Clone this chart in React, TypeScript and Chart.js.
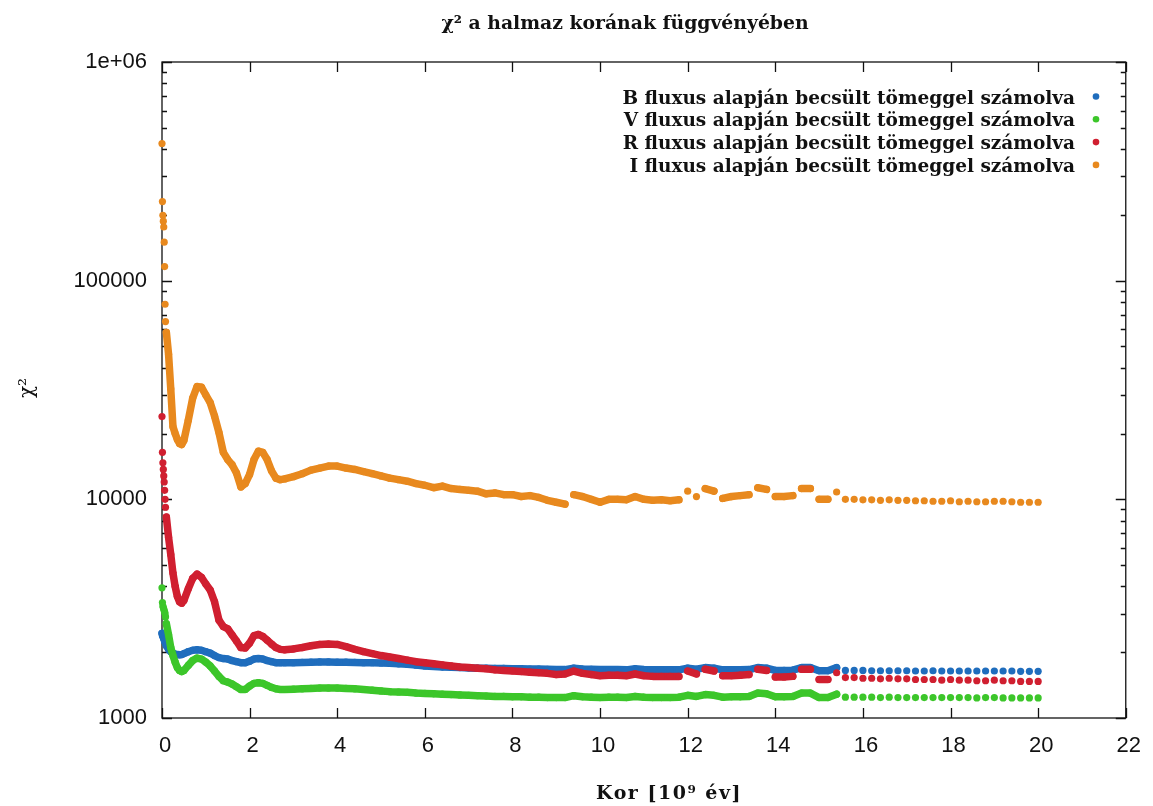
import { useEffect, useRef } from 'react';
import { Chart, registerables } from 'chart.js';

Chart.register(...registerables);

// Cluster age grid [10^9 év]
const ages = [
  0, 0.01, 0.02, 0.03, 0.04, 0.05, 0.06, 0.07, 0.08, 0.1,
  0.15, 0.2, 0.25, 0.3, 0.35, 0.4, 0.45, 0.5,
  0.6, 0.7, 0.8, 0.9, 1.0, 1.1, 1.2, 1.3, 1.4, 1.5, 1.6, 1.7,
  1.8, 1.9, 2.0, 2.1, 2.2, 2.3, 2.4, 2.5, 2.6, 2.7, 2.8,
  3.0,
  3.2, 3.4, 3.6, 3.8, 4.0, 4.2, 4.4, 4.6, 4.8, 5.0,
  5.2, 5.4, 5.6, 5.8, 6.0,
  6.2, 6.4, 6.6, 6.8, 7.0,
  7.2, 7.4, 7.6, 7.8, 8.0,
  8.2, 8.4, 8.6, 8.8, 9.0,
  9.2, 9.4, 9.6, 9.8, 10.0,
  10.2, 10.4, 10.6, 10.8, 11.0,
  11.2, 11.4, 11.6, 11.8, 12.0,
  12.2, 12.4, 12.6, 12.8, 13.0,
  13.2, 13.4, 13.6, 13.8, 14.0,
  14.2, 14.4, 14.6, 14.8, 15.0,
  15.2, 15.4, 15.6, 15.8, 16.0,
  16.2, 16.4, 16.6, 16.8, 17.0,
  17.2, 17.4, 17.6, 17.8, 18.0,
  18.2, 18.4, 18.6, 18.8, 19.0,
  19.2, 19.4, 19.6, 19.8, 20.0,
];

// chi^2 with masses estimated from the B flux
const chiB = [
  2440, 2400, 2370, 2340, 2310, 2280, 2250, 2220, 2190, 2140,
  2060, 2010, 1980, 1960, 1950, 1945, 1950, 1970,
  2010, 2040, 2050, 2040, 2010, 1980, 1930, 1890, 1870, 1860, 1830, 1810,
  1790, 1790, 1820, 1860, 1870, 1860, 1830, 1810, 1790, 1790, 1790,
  1790,
  1795, 1800, 1805, 1805, 1800, 1800, 1795, 1790, 1790, 1785,
  1780, 1770, 1760, 1745, 1730,
  1720, 1710, 1705, 1700, 1695,
  1690, 1690, 1685, 1685, 1680,
  1680, 1675, 1675, 1670, 1665,
  1665, 1690, 1675, 1670, 1665,
  1665, 1665, 1660, 1680, 1665,
  1660, 1660, 1660, 1660, 1690,
  1670, 1700, 1690, 1660, 1660,
  1660, 1665, 1700, 1690, 1650,
  1650, 1655, 1700, 1700, 1645,
  1645, 1700, 1650, 1650, 1650,
  1645, 1645, 1645, 1645, 1645,
  1640, 1640, 1645, 1640, 1640,
  1640, 1640, 1640, 1640, 1640,
  1640, 1640, 1635, 1635, 1635,
];

// chi^2 with masses estimated from the V flux
const chiV = [
  3940, 3370, 3250, 3200, 3150, 3100, 3050, 3000, 2900, 2700,
  2400, 2100, 1930, 1800, 1700, 1650, 1630, 1650,
  1740, 1830, 1880, 1860, 1800, 1730, 1640, 1550, 1480, 1460, 1430, 1390,
  1350, 1350, 1400, 1440, 1450, 1440, 1410, 1380, 1360, 1350, 1350,
  1355,
  1360, 1365, 1370, 1370, 1370, 1365, 1360, 1350, 1340, 1330,
  1320, 1315, 1310, 1300, 1295,
  1290, 1285, 1280, 1275, 1270,
  1265, 1260, 1255, 1255, 1250,
  1250, 1245, 1245, 1240, 1240,
  1240, 1265, 1250, 1245, 1240,
  1245, 1245, 1240, 1255, 1245,
  1240, 1240, 1240, 1245, 1270,
  1255, 1280, 1270, 1245, 1250,
  1250, 1255, 1300, 1290, 1250,
  1250, 1255, 1300, 1300, 1240,
  1240, 1285, 1245, 1245, 1245,
  1245, 1240, 1245, 1240, 1240,
  1240, 1240, 1240, 1240, 1240,
  1240, 1240, 1235, 1240, 1240,
  1235, 1235, 1235, 1235, 1235,
];

// chi^2 with masses estimated from the R flux
const chiR = [
  23900, 16400, 14700, 13700, 12800, 12000, 11000, 10000, 9200, 8300,
  6700, 5600, 4600, 4000, 3600, 3400, 3350, 3450,
  3900, 4350, 4550, 4400, 4100, 3850, 3400, 2800, 2620, 2560, 2400, 2250,
  2100, 2090, 2200, 2380, 2410, 2360, 2270, 2180, 2100, 2060, 2050,
  2070,
  2100, 2140, 2170, 2180, 2170, 2120, 2060, 2010, 1970, 1930,
  1900, 1870, 1840, 1810, 1790,
  1770, 1750, 1730, 1710, 1700,
  1690, 1680, 1660, 1650, 1640,
  1630, 1620, 1610, 1600, 1580,
  1590, 1640, 1600, 1580, 1560,
  1570, 1570, 1560, 1590, 1560,
  1550, 1550, 1550, 1550, 1640,
  1590, 1670, 1640, 1560, 1560,
  1570, 1580, 1670, 1650, 1540,
  1540, 1550, 1670, 1670, 1500,
  1500, 1610, 1530, 1530, 1520,
  1520, 1510, 1520, 1510, 1510,
  1500, 1500, 1500, 1490, 1500,
  1490, 1490, 1480, 1480, 1490,
  1480, 1480, 1470, 1470, 1470,
];

// chi^2 with masses estimated from the I flux
const chiI = [
  424000, 230000, 199000, 187000, 176000, 150000, 116000, 78000, 65000, 58000,
  46000, 32000, 21500, 20000, 18800, 18000, 17800, 18600,
  23000, 29000, 32800, 32600, 30000, 27700, 24000, 20200, 16400, 15200, 14400, 13200,
  11400, 11800, 13000, 15200, 16600, 16400, 15200, 13500, 12500, 12300, 12400,
  12700,
  13100, 13600, 13900, 14200, 14200, 13900, 13700, 13400, 13100, 12800,
  12500, 12300, 12100, 11800, 11600,
  11300, 11500, 11200, 11100, 11000,
  10900, 10600, 10700, 10500, 10500,
  10300, 10400, 10200, 9900, 9700,
  9500, 10500, 10300, 10000, 9700,
  10000, 10000, 9950, 10300, 10000,
  9900, 9950, 9850, 9950, 10900,
  10300, 11200, 10900, 10100, 10300,
  10400, 10500, 11300, 11100, 10300,
  10300, 10400, 11200, 11200, 10000,
  10000, 10800, 10000, 10000, 9950,
  9950, 9900, 9950, 9900, 9900,
  9850, 9850, 9800, 9800, 9850,
  9750, 9800, 9750, 9750, 9800,
  9800, 9750, 9700, 9700, 9700,
];

const seriesLabels = [
  'B fluxus alapján becsült tömeggel számolva',
  'V fluxus alapján becsült tömeggel számolva',
  'R fluxus alapján becsült tömeggel számolva',
  'I fluxus alapján becsült tömeggel számolva',
];
const seriesColors = ['#1f6dbd', '#3cc62a', '#d01f30', '#e8891e'];
const seriesValues = [chiB, chiV, chiR, chiI];

const xTicks = [0, 2, 4, 6, 8, 10, 12, 14, 16, 18, 20, 22];
const yMajorTicks = [1000, 10000, 100000, 1000000];
const yMinorTicks = [
  2000, 3000, 4000, 5000, 6000, 7000, 8000, 9000,
  20000, 30000, 40000, 50000, 60000, 70000, 80000, 90000,
  200000, 300000, 400000, 500000, 600000, 700000, 800000, 900000,
];

const titleText = 'χ² a halmaz korának függvényében';
const xTitle = 'Kor [10⁹ év]';
const yTitle = 'χ²';

const SERIF = '"DejaVu Serif", "Liberation Serif", serif';
const SANS = '"Liberation Sans", Arial, sans-serif';

// dense samples are joined into a band up to this age; later ones stay as dots
const BAND_END = 15.5;
// the band is broken where the late-age values jump
const JUMP_RATIO = 1.05;

const frameAndLabels = {
  id: 'frameAndLabels',
  beforeDatasetsDraw(chart: any) {
    const { ctx, chartArea, scales } = chart;
    const { left, right, top, bottom } = chartArea;
    const x = scales.x;
    const y = scales.y;
    ctx.save();
    ctx.strokeStyle = '#111';
    ctx.lineWidth = 1.3;
    ctx.strokeRect(left, top, right - left, bottom - top);
    ctx.beginPath();
    xTicks.forEach((v) => {
      const px = Math.round(x.getPixelForValue(v)) + 0.5;
      ctx.moveTo(px, bottom);
      ctx.lineTo(px, bottom - 10);
      ctx.moveTo(px, top);
      ctx.lineTo(px, top + 10);
    });
    yMajorTicks.forEach((v) => {
      const py = Math.round(y.getPixelForValue(v)) + 0.5;
      ctx.moveTo(left, py);
      ctx.lineTo(left + 10, py);
      ctx.moveTo(right, py);
      ctx.lineTo(right - 10, py);
    });
    yMinorTicks.forEach((v) => {
      const py = Math.round(y.getPixelForValue(v)) + 0.5;
      ctx.moveTo(left, py);
      ctx.lineTo(left + 5, py);
      ctx.moveTo(right, py);
      ctx.lineTo(right - 5, py);
    });
    ctx.stroke();
    ctx.restore();
  },
  afterDraw(chart: any) {
    const { ctx } = chart;
    ctx.save();
    ctx.fillStyle = '#111';
    ctx.textBaseline = 'alphabetic';

    ctx.font = `bold 18.8px ${SERIF}`;
    ctx.textAlign = 'center';
    ctx.fillText(titleText, 625, 28.5);

    ctx.save();
    ctx.font = `bold 19px ${SERIF}`;
    (ctx as any).letterSpacing = '1.5px';
    ctx.fillText(xTitle, 669, 799);
    ctx.restore();

    ctx.save();
    ctx.translate(33, 388);
    ctx.rotate(-Math.PI / 2);
    ctx.font = `20px ${SERIF}`;
    ctx.textAlign = 'center';
    ctx.fillText(yTitle, 0, 0);
    ctx.restore();

    ctx.font = `bold 18.5px ${SERIF}`;
    ctx.textAlign = 'right';
    seriesLabels.forEach((label, i) => {
      ctx.fillStyle = '#111';
      ctx.fillText(label, 1075, 103.5 + 22.8 * i);
      ctx.fillStyle = seriesColors[i];
      ctx.beginPath();
      ctx.arc(1096, 96.5 + 22.8 * i, 3.3, 0, Math.PI * 2);
      ctx.fill();
    });
    ctx.restore();
  },
};

export default function App() {
  const canvasRef = useRef<HTMLCanvasElement | null>(null);

  useEffect(() => {
    if (!canvasRef.current) return;
    const datasets = seriesValues.map((vals, i) => {
      const color = seriesColors[i];
      const bandStart = i === 0 ? -1 : 0.095;
      return {
        label: seriesLabels[i],
        data: ages.map((a, k) => ({ x: a, y: vals[k] })),
        showLine: true,
        borderColor: color,
        borderWidth: 7.5,
        borderCapStyle: 'round' as const,
        borderJoinStyle: 'round' as const,
        tension: 0,
        pointRadius: 3.6,
        pointBorderWidth: 0,
        pointBackgroundColor: color,
        clip: false as const,
        order: 4 - i,
        segment: {
          borderColor: (c: any) => {
            const x0 = c.p0.parsed.x;
            const x1 = c.p1.parsed.x;
            const y0 = c.p0.parsed.y;
            const y1 = c.p1.parsed.y;
            const ratio = Math.max(y0, y1) / Math.min(y0, y1);
            const jump = x0 >= 5 && ratio > JUMP_RATIO;
            return x0 < bandStart || x1 > BAND_END || jump ? 'rgba(0,0,0,0)' : color;
          },
        },
      };
    });

    const chart = new Chart(canvasRef.current, {
      type: 'scatter',
      data: { datasets },
      options: {
        animation: false,
        responsive: false,
        events: [],
        layout: { padding: { top: 62, right: 27, left: 0, bottom: 0 } },
        plugins: {
          legend: { display: false },
          tooltip: { enabled: false },
          title: { display: false },
        },
        scales: {
          x: {
            type: 'linear',
            min: 0,
            max: 22,
            afterBuildTicks: (s: any) => {
              s.ticks = xTicks.map((v) => ({ value: v }));
            },
            afterFit: (s: any) => {
              s.height = 88;
            },
            grid: { display: false, drawTicks: false },
            border: { display: false },
            ticks: {
              color: '#111',
              font: { family: SANS, size: 22 },
              padding: 15,
              labelOffset: 3,
              maxRotation: 0,
              autoSkip: false,
            },
          },
          y: {
            type: 'logarithmic',
            min: 1000,
            max: 1000000,
            afterBuildTicks: (s: any) => {
              s.ticks = yMajorTicks.map((v) => ({ value: v }));
            },
            afterFit: (s: any) => {
              s.width = 162;
            },
            grid: { display: false, drawTicks: false },
            border: { display: false },
            ticks: {
              color: '#111',
              font: { family: SANS, size: 22 },
              padding: 15,
              autoSkip: false,
              callback: (v: any) => (Number(v) === 1000000 ? '1e+06' : String(v)),
            },
          },
        },
      },
      plugins: [frameAndLabels],
    });
    return () => chart.destroy();
  }, []);

  return (
    <div style={{ position: 'fixed', left: 0, top: 0, width: 1153, height: 806, background: '#fff' }}>
      <canvas ref={canvasRef} width={1153} height={806} style={{ display: 'block' }} />
    </div>
  );
}
